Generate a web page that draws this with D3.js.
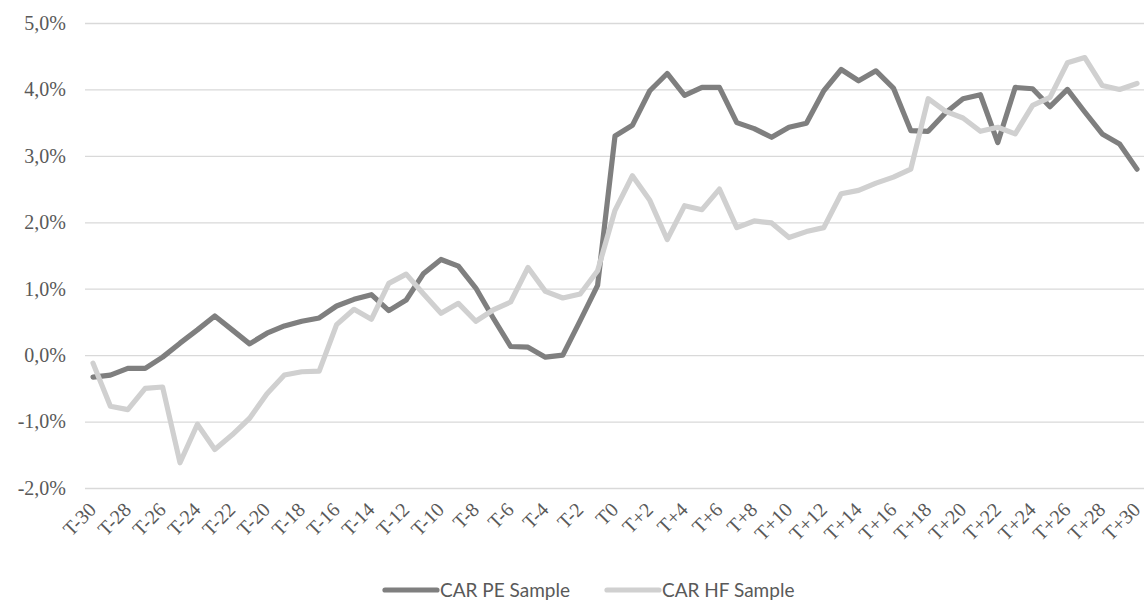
<!DOCTYPE html>
<html>
  <head>
    <title>CAR PE vs HF</title>
    <style>
      body,
      html {
        margin: 0;
        padding: 0;
        background: #fff;
      }
    </style>
  </head>
  <body>
    <svg id="svg" width="1144" height="600"></svg>

    <script src="https://cdn.jsdelivr.net/npm/d3@7"></script>
    <script>
      // event days T-30 .. T+30
      const days = d3.range(-30, 31).map((d) =>
        d === 0 ? 'T0' : d < 0 ? `T${d}` : `T+${d}`
      );
      // cumulative abnormal returns, in %
      const carPE = [
        -0.33, -0.3, -0.2, -0.2, -0.03, 0.18, 0.38, 0.59, 0.38, 0.17,
        0.33, 0.44, 0.51, 0.56, 0.74, 0.84, 0.91, 0.67, 0.83, 1.23,
        1.44, 1.34, 1.01, 0.56, 0.13, 0.12, -0.03, 0.0, 0.52, 1.05,
        3.3, 3.46, 3.98, 4.24, 3.91, 4.03, 4.03, 3.5, 3.41, 3.28,
        3.43, 3.49, 3.98, 4.3, 4.13, 4.28, 4.02, 3.38, 3.37, 3.65,
        3.86, 3.92, 3.2, 4.03, 4.01, 3.74, 4.0, 3.66, 3.33, 3.18,
        2.8
      ];
      const carHF = [
        -0.12, -0.77, -0.82, -0.5, -0.48, -1.62, -1.04, -1.42, -1.2, -0.95,
        -0.58, -0.3, -0.25, -0.24, 0.46, 0.69, 0.54, 1.08, 1.22, 0.92,
        0.63, 0.78, 0.51, 0.68, 0.8, 1.32, 0.96, 0.86, 0.92, 1.27,
        2.18, 2.7, 2.33, 1.74, 2.25, 2.19, 2.5, 1.92, 2.02, 1.99,
        1.77, 1.86, 1.92, 2.43, 2.48, 2.59, 2.68, 2.8, 3.86, 3.67,
        3.57, 3.37, 3.43, 3.33, 3.76, 3.88, 4.4, 4.48, 4.06, 4.0,
        4.09
      ];
      const yTicks = [-2, -1, 0, 1, 2, 3, 4, 5];
      const seriesNames = ['CAR PE Sample', 'CAR HF Sample'];

      const width = 1144;
      const colors = ['#7f7f7f', '#d0d0d0'];
      const textColor = '#595959';
      const serif = 'Liberation Serif, Times New Roman, serif';

      const svg = d3.select('#svg');

      const xScale = d3.scalePoint().domain(days).range([93, 1137]);
      const yScale = d3.scaleLinear().domain([-2, 5]).range([488, 23]);

      // gridlines + y labels
      const yAxis = d3
        .axisLeft(yScale)
        .tickValues(yTicks)
        .tickSize(-(width - 85))
        .tickPadding(19)
        .tickFormat((d) => d3.format('.1f')(d).replace('.', ',').replace('−', '-') + '%');

      const gy = svg
        .append('g')
        .attr('transform', 'translate(85, 0)')
        .call(yAxis);
      gy.select('.domain').remove();
      gy.selectAll('.tick line').attr('stroke', '#d9d9d9').attr('stroke-width', 1.3);
      gy.selectAll('.tick text')
        .attr('fill', textColor)
        .attr('font-family', serif)
        .attr('font-size', 20);

      // x labels, every second day, rotated
      const xAxis = d3
        .axisBottom(xScale)
        .tickValues(days.filter((d, i) => i % 2 === 0))
        .tickSize(0)
        .tickPadding(0);
      const gx = svg
        .append('g')
        .attr('transform', 'translate(0, 488)')
        .call(xAxis);
      gx.select('.domain').remove();
      gx.selectAll('.tick text')
        .attr('fill', textColor)
        .attr('font-family', serif)
        .attr('font-size', 20)
        .attr('text-anchor', 'end')
        .attr('dy', '0.35em')
        .attr('transform', 'translate(-1, 18) rotate(-45)');

      const linegen = d3
        .line()
        .x((d, i) => xScale(days[i]))
        .y((d) => yScale(d));

      [carPE, carHF].forEach((s, k) => {
        svg
          .append('path')
          .attr('d', linegen(s))
          .attr('fill', 'none')
          .attr('stroke', colors[k])
          .attr('stroke-width', 5.2)
          .attr('stroke-linejoin', 'round')
          .attr('stroke-linecap', 'round');
      });

      // legend
      const legend = svg.append('g').attr('transform', 'translate(0, 590)');
      const legendX = [385, 607];
      seriesNames.forEach((name, k) => {
        legend
          .append('line')
          .attr('x1', legendX[k])
          .attr('x2', legendX[k] + 52)
          .attr('stroke', colors[k])
          .attr('stroke-width', 5.2)
          .attr('stroke-linecap', 'round');
        legend
          .append('text')
          .attr('x', legendX[k] + 55)
          .attr('dy', '0.35em')
          .attr('fill', textColor)
          .attr('font-family', 'Lato, sans-serif')
          .attr('font-size', 19)
          .text(name);
      });
    </script>
  </body>
</html>
